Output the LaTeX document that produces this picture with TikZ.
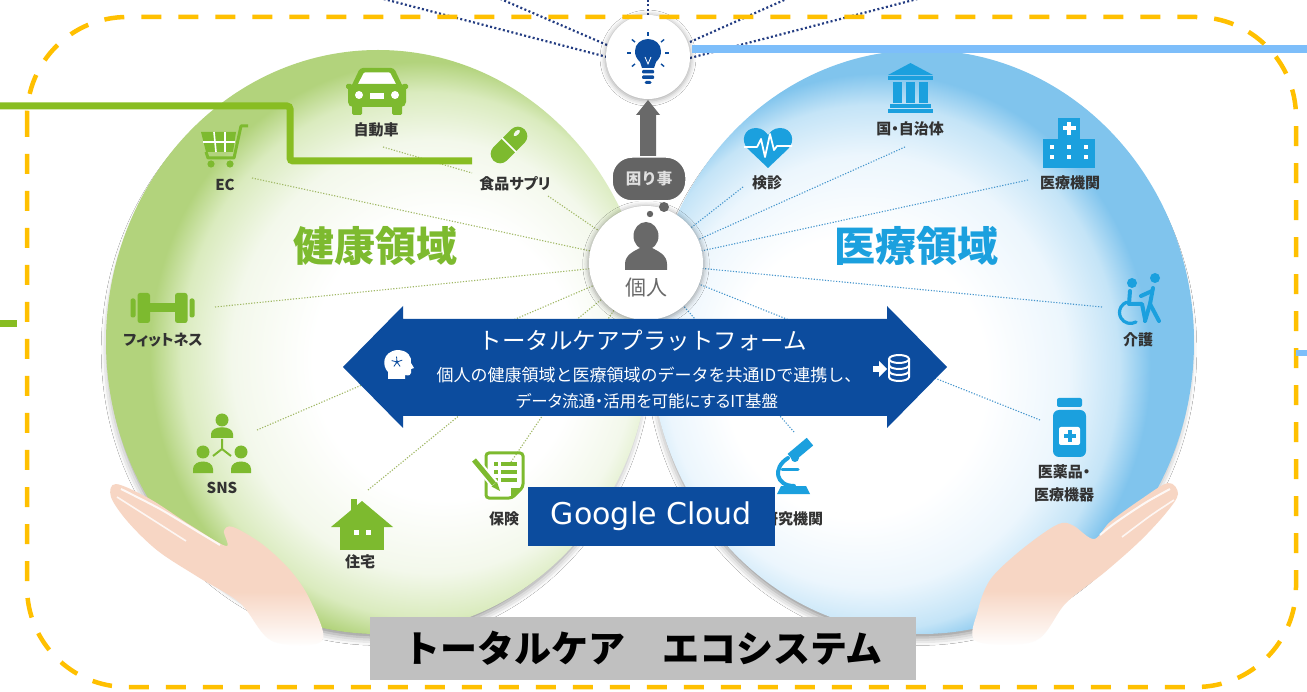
\documentclass[tikz,border=0pt]{standalone}
\usepackage{fontspec}
\setmainfont{Noto Sans CJK JP}
\newfontfamily\gcfont{DejaVu Sans}
\usetikzlibrary{shadows.blur}

\definecolor{hgreen}{RGB}{125,186,47}
\definecolor{mblue}{RGB}{27,160,222}
\definecolor{navy}{RGB}{12,76,158}
\definecolor{lblgray}{RGB}{50,50,50}
\definecolor{gold}{RGB}{255,192,0}
\definecolor{linegreen}{RGB}{136,189,34}
\definecolor{lineblue}{RGB}{125,190,250}
\definecolor{skin}{RGB}{247,214,196}
\definecolor{gedge}{RGB}{178,211,124}
\definecolor{gmid}{RGB}{218,235,190}
\definecolor{glight}{RGB}{243,248,235}
\definecolor{bedge}{RGB}{128,196,237}
\definecolor{bmid}{RGB}{196,228,247}
\definecolor{blight}{RGB}{236,246,253}
\definecolor{spokeg}{RGB}{160,184,100}
\definecolor{spokeb}{RGB}{70,150,205}
\definecolor{dotnavy}{RGB}{35,60,130}
\definecolor{pgray}{RGB}{105,105,105}
\definecolor{bubgray}{RGB}{100,100,100}
\definecolor{boxgray}{RGB}{192,192,192}

% sphere and hand shadings
\pgfdeclareradialshading{gsphere}{\pgfpoint{8bp}{-2bp}}{color(0bp)=(white); color(12bp)=(white); color(18.5bp)=(glight); color(22.5bp)=(gmid); color(25bp)=(gedge); color(50bp)=(gedge)}
\pgfdeclareradialshading{bsphere}{\pgfpoint{-8bp}{-4bp}}{color(0bp)=(white); color(12bp)=(white); color(18.5bp)=(blight); color(22.5bp)=(bmid); color(25bp)=(bedge); color(50bp)=(bedge)}
\pgfdeclareverticalshading{handfade}{100bp}{color(0bp)=(white); color(25bp)=(white); color(42bp)=(skin); color(100bp)=(skin)}

\begin{document}
\begin{tikzpicture}[x=1pt,y=-1pt,
  lbl/.style={font=\bfseries\fontsize{15}{17}\selectfont\addfontfeatures{RawFeature=+palt}, text=lblgray, inner sep=0pt},
  gspoke/.style={draw=spokeg, line width=1.1pt, dash pattern=on 1.2pt off 1.6pt},
  bspoke/.style={draw=spokeb, line width=1.1pt, dash pattern=on 1.2pt off 1.6pt},
  topdot/.style={draw=dotnavy, line width=2.2pt, dash pattern=on 2pt off 2.4pt},
  gfill/.style={fill=hgreen},
  bfill/.style={fill=mblue},
  softshadow/.style={blur shadow={shadow xshift=0pt, shadow yshift=-1pt, shadow blur radius=5pt, shadow opacity=35, shadow scale=1.02}},
  sphereshadow/.style={blur shadow={shadow xshift=-1pt, shadow yshift=-8pt, shadow blur radius=8pt, shadow opacity=45, shadow scale=0.985}},
]
\useasboundingbox (0,0) rectangle (1307,692);
\fill[white] (0,0) rectangle (1307,692);

% ---------- rays leaving the idea bulb ----------
\coordinate (bA) at (607,57);  \coordinate (tA) at (376,-3);
\coordinate (bB) at (607,45);  \coordinate (tB) at (496,-3);
\coordinate (bC) at (648,15);  \coordinate (tC) at (648,-3);
\coordinate (bD) at (690,42);  \coordinate (tD) at (791,-3);
\coordinate (bE) at (690,58);  \coordinate (tE) at (925,-3);
\draw[topdot] (bA) -- (tA);
\draw[topdot] (bB) -- (tB);
\draw[topdot] (bC) -- (tC);
\draw[topdot] (bD) -- (tD);
\draw[topdot] (bE) -- (tE);

% ---------- the two domain spheres ----------
\shade[shading=gsphere, sphereshadow] (378,342) ellipse [x radius=272pt, y radius=292pt];
\shade[shading=bsphere, sphereshadow] (922,342) ellipse [x radius=272pt, y radius=292pt];

% ---------- spokes from the person ----------
\coordinate (pc) at (646,263);
\coordinate (sCar) at (383,147);  \coordinate (sCarEnd) at (472,173);
\coordinate (sSup) at (548,196);
\coordinate (sEC) at (252,178);
\coordinate (sFit) at (215,307);
\coordinate (sSNS) at (257,430);
\coordinate (sHome) at (368,490);
\coordinate (sIns) at (511,462);
\draw[gspoke] (sCar) -- (sCarEnd);
\draw[gspoke] (sSup) -- (pc);
\draw[gspoke] (sEC) -- (pc);
\draw[gspoke] (sFit) -- (pc);
\draw[gspoke] (sSNS) -- (pc);
\draw[gspoke] (sHome) -- (pc);
\draw[gspoke] (sIns) -- (pc);
\coordinate (sChk) at (743,187);
\coordinate (sGov) at (905,147);
\coordinate (sHosp) at (1028,180);
\coordinate (sCare) at (1102,307);
\coordinate (sMed) at (1040,420);
\coordinate (sLab) at (794,432);
\draw[bspoke] (sChk) -- (pc);
\draw[bspoke] (sGov) -- (pc);
\draw[bspoke] (sHosp) -- (pc);
\draw[bspoke] (sCare) -- (pc);
\draw[bspoke] (sMed) -- (pc);
\draw[bspoke] (sLab) -- (pc);

% ---------- hands ----------
\shade[shading=handfade] plot[smooth cycle, tension=0.55] coordinates {(116,484) (150,499) (190,525) (226,546) (224,531) (233,527) (262,544) (290,570) (310,600) (322,641) (272,641) (240,603) (198,577) (158,551) (128,522) (111,497)};
\draw[white, line width=2pt, opacity=0.85] plot[smooth] coordinates {(121,489) (160,509) (200,533) (220,545)};
\draw[white, line width=1.6pt, opacity=0.8] plot[smooth] coordinates {(117,497) (150,518) (186,541)};
\shade[shading=handfade] plot[smooth cycle, tension=0.55] coordinates {(1168,483) (1140,500) (1110,522) (1094,539) (1074,526) (1062,523) (1045,532) (1015,555) (990,580) (978,610) (976,641) (1035,641) (1066,603) (1105,572) (1140,541) (1166,513) (1178,494)};
\draw[white, line width=2pt, opacity=0.85] plot[smooth] coordinates {(1170,489) (1145,503) (1115,523) (1100,535)};
\draw[white, line width=1.6pt, opacity=0.8] plot[smooth] coordinates {(1174,500) (1150,516) (1122,537)};

% ---------- health domain icons ----------
% car
\begin{scope}[shift={(377,92)}]
  \fill[gfill, rounded corners=1.5pt] (-31,-8) rectangle (-25,-3);
  \fill[gfill, rounded corners=1.5pt] (25,-8) rectangle (31,-3);
  \fill[gfill, rounded corners=3pt] (-17,-24) -- (17,-24) -- (26,-5) -- (-26,-5) -- cycle;
  \fill[white, rounded corners=1pt] (-13,-19.5) -- (13,-19.5) -- (19.5,-7) -- (-19.5,-7) -- cycle;
  \fill[gfill, rounded corners=1.5pt] (-25,10) rectangle (-15,23);
  \fill[gfill, rounded corners=1.5pt] (15,10) rectangle (25,23);
  \fill[gfill, rounded corners=5pt] (-29,-8) rectangle (29,15);
  \fill[white] (-18,3) circle[radius=4pt];
  \fill[white] (18,3) circle[radius=4pt];
  \fill[white] (-7,1) rectangle (7,7);
\end{scope}
% shopping cart
\begin{scope}[shift={(224,145)}]
  \fill[gfill] (-23,-13) -- (12,-13) -- (9,7) -- (-18,7) -- cycle;
  \draw[white, line width=1.6pt] (-21,-3) -- (11,-3);
  \draw[white, line width=1.6pt] (-10,-13) -- (-8,7);
  \draw[white, line width=1.6pt] (1,-13) -- (1,7);
  \draw[hgreen, line width=3pt, line join=round] (-18,7) -- (-16,13) -- (10,13) -- (17,-19) -- (24,-19);
  \fill[gfill] (-13,19) circle[radius=3.6pt];
  \fill[gfill] (6,19) circle[radius=3.6pt];
\end{scope}
% supplement capsule
\begin{scope}[shift={(509,145)}, rotate=45]
  \fill[gfill, rounded corners=9.5pt] (-22,-9.5) rectangle (22,9.5);
  \draw[white, line width=1.6pt] (0,-10) -- (0,10);
  \fill[white, opacity=0.9] (14,-3) ellipse [x radius=4pt, y radius=2pt];
\end{scope}
% dumbbell
\begin{scope}[shift={(162.5,308)}]
  \fill[gfill, rounded corners=2pt] (-32,-9.5) rectangle (-27,9.5);
  \fill[gfill, rounded corners=2pt] (27,-9.5) rectangle (32,9.5);
  \fill[gfill, rounded corners=2.5pt] (-25,-15) rectangle (-12.5,15);
  \fill[gfill, rounded corners=2.5pt] (12.5,-15) rectangle (25,15);
  \fill[gfill] (-13,-4.5) rectangle (13,4.5);
\end{scope}
% social network
\fill[gfill] (222,420) circle[radius=6.5pt];
\fill[gfill] (211,438) -- (211,434) .. controls (211,425) and (233,425) .. (233,434) -- (233,438) -- cycle;
\fill[gfill] (203,452) circle[radius=6.5pt];
\fill[gfill] (193,473) -- (193,469) .. controls (193,459) and (213,459) .. (213,469) -- (213,473) -- cycle;
\fill[gfill] (241,452) circle[radius=6.5pt];
\fill[gfill] (231,473) -- (231,469) .. controls (231,459) and (251,459) .. (251,469) -- (251,473) -- cycle;
\draw[hgreen, line width=2pt] (222,439) -- (222,449) -- (213,456);
\draw[hgreen, line width=2pt] (222,449) -- (231,456);
% house
\fill[gfill] (351,499) rectangle (357,512);
\fill[gfill] (331,527) -- (362,501) -- (393,527) -- cycle;
\fill[gfill] (340,524) rectangle (384,550);
\fill[white] (354,530) rectangle (359,535);
\fill[white] (366,530) rectangle (371,535);
% insurance form
\draw[hgreen, line width=3pt, rounded corners=3pt] (486,453) -- (523,453) -- (523,487) -- (512,498) -- (486,498) -- cycle;
\fill[gfill] (511,498) -- (511,488) -- (522,488) -- cycle;
\foreach \yy in {464,472,480} {
  \fill[gfill] (494,\yy-1.8) rectangle (498,\yy+1.8);
  \fill[gfill] (501,\yy-1.8) rectangle (517,\yy+1.8);
}
\draw[white, line width=9pt] (474,460) -- (496,486);
\draw[hgreen, line width=5pt] (474,460) -- (494,484);
\fill[gfill] (491.5,486.5) -- (497,482) -- (500,491) -- cycle;

% ---------- medical domain icons ----------
% heart with pulse
\fill[bfill] (768,168) -- (748,149) .. controls (740,141) and (744,128) .. (756,128) .. controls (762,128) and (766,132) .. (768,135) .. controls (770,132) and (774,128) .. (780,128) .. controls (792,128) and (796,141) .. (788,149) -- cycle;
\draw[white, line width=1.8pt, line join=round] (744,147) -- (757,147) -- (761,139) -- (765,157) -- (770,134) -- (774,150) -- (777,146) -- (792,146);
% government building
\fill[bfill] (888,75) -- (910.5,63) -- (933,75) -- cycle;
\fill[bfill] (888,76) rectangle (933,80);
\fill[bfill] (893,82) rectangle (902,103);
\fill[bfill] (906,82) rectangle (915,103);
\fill[bfill] (919,82) rectangle (928,103);
\fill[bfill] (890,104) rectangle (931,108);
\fill[bfill] (888,109) rectangle (933,113);
% hospital
\fill[bfill] (1058,118) rectangle (1080,141);
\fill[white] (1067,122) rectangle (1071,135);
\fill[white] (1062.5,126.5) rectangle (1075.5,130.5);
\fill[bfill] (1043,139) rectangle (1095,168);
\foreach \xx in {1052,1069,1086} \foreach \yy in {147,157} \fill[white] (\xx-2,\yy-2) rectangle (\xx+2,\yy+2);
% care: wheelchair and helper
\begin{scope}[mblue, line width=4pt, line cap=round, line join=round]
  \fill[bfill] (1155,278) circle[radius=5pt];
  \fill[bfill] (1132,283) circle[radius=5pt];
  \draw (1153,288) -- (1150,304) -- (1145,321);
  \draw (1150,304) -- (1159,321);
  \draw (1152,291) -- (1141,296);
  \draw (1130,291) -- (1129,304) -- (1142,304) -- (1145,319);
  \draw[line width=3.2pt] (1136,322) arc[start angle=-60, end angle=-250, radius=11pt];
\end{scope}
% medicine bottle
\fill[bfill, rounded corners=2pt] (1057,398) rectangle (1082,407);
\fill[bfill, rounded corners=6pt] (1053,410) rectangle (1086,457);
\fill[white, rounded corners=2pt] (1059,427) rectangle (1080,445);
\fill[bfill] (1067.5,430) rectangle (1071.5,442);
\fill[bfill] (1063.5,434) rectangle (1075.5,438);
% microscope
\fill[bfill, rotate around={40:(800,450)}] (788,445) rectangle (813,455);
\fill[bfill] (795,458) circle[radius=4pt];
\draw[mblue, line width=4pt, line cap=round] (788,458) .. controls (772,468) and (776,486) .. (794,486);
\draw[mblue, line width=3pt, line cap=round] (782,470) -- (798,470);
\fill[bfill] (777,494) -- (781,486) -- (806,486) -- (810,494) -- cycle;

% ---------- labels ----------
\node[lbl] (lCar) at (376,130) {自動車};
\node[lbl] (lEC) at (225,185) {EC};
\node[lbl] (lSup) at (515,184) {食品サプリ};
\node[lbl] (lFit) at (163,340) {フィットネス};
\node[lbl] (lSNS) at (222,488) {SNS};
\node[lbl] (lHome) at (360,562) {住宅};
\node[lbl] (lIns) at (504,519) {保険};
\node[lbl] (lChk) at (767,183) {検診};
\node[lbl] (lGov) at (910,129) {国・自治体};
\node[lbl] (lHosp) at (1070,183) {医療機関};
\node[lbl] (lCare) at (1138,340) {介護};
\node[lbl, align=center, font=\bfseries\fontsize{15}{23}\selectfont\addfontfeatures{RawFeature=+palt}] (lMed) at (1064,483) {医薬品・\\医療機器};
\node[lbl] (lLab) at (793,519) {研究機関};
\node[font=\bfseries\fontsize{41}{44}\selectfont, text=hgreen, inner sep=0pt] (hdom) at (375,246) {健康領域};
\node[font=\bfseries\fontsize{41}{44}\selectfont, text=mblue, inner sep=0pt] (mdom) at (916,246) {医療領域};

% ---------- link lines ----------
\coordinate (gA) at (-5,106);
\coordinate (gB) at (472,161);
\draw[linegreen, line width=7pt, rounded corners=3pt] (gA) -- (290,106) -- (290,161) -- (gB);
\coordinate (gC) at (-5,324);
\coordinate (gD) at (17,324);
\draw[linegreen, line width=7pt] (gC) -- (gD);

% ---------- centre column ----------
\node[circle, fill=white, minimum size=84pt, inner sep=0pt, softshadow] (bulb) at (648,57) {};
\coordinate (lbA) at (692,49);
\coordinate (lbB) at (1310,49);
\draw[lineblue, line width=8pt] (lbA) -- (lbB);
% bulb glyph
\fill[navy] (642,68) -- (654,68) -- (656,62) .. controls (660,58) and (661,55) .. (661,51) .. controls (661,44) and (655,39) .. (648,39) .. controls (641,39) and (635,44) .. (635,51) .. controls (635,55) and (636,58) .. (640,62) -- cycle;
\fill[navy, rounded corners=1pt] (642,70) rectangle (654,73.5);
\fill[navy, rounded corners=1pt] (642,75.5) rectangle (654,79);
\fill[navy, rounded corners=1.5pt] (644.5,81) rectangle (651.5,84);
\draw[white, line width=0.8pt] (645,57) -- (648,64) -- (651,57);
\foreach \a in {90,140,180,220,40,0,-40}
  \draw[navy, line width=1.4pt, shift={(648,53)}] (\a:17pt) -- (\a:21pt);

% arrow up from the concern
\fill[pgray] (648,100) -- (660,115) -- (656,115) -- (656,158) -- (640,158) -- (640,115) -- (636,115) -- cycle;

% person
\node[circle, fill=white, minimum size=114pt, inner sep=0pt, softshadow] (person) at (pc) {};
\fill[pgray] (646,236) ellipse [x radius=12.5pt, y radius=14pt];
\fill[pgray] (625,270) -- (625,264) .. controls (625,255) and (634,251) .. (640,248) -- (652,248) .. controls (658,251) and (667,255) .. (667,264) -- (667,270) -- cycle;
\node[font=\fontsize{21}{22}\selectfont, text=pgray, inner sep=0pt] (pname) at (646,288) {個人};

% concern bubble
\node[fill=bubgray, draw=white, line width=1.5pt, rounded corners=20pt, minimum width=74pt, minimum height=44pt, inner sep=0pt, text=white!88!black, font=\bfseries\fontsize{15.5}{17}\selectfont] (worry) at (649,179) {困り事};
\fill[bubgray] (664,207) circle[radius=5pt];
\fill[bubgray] (650,214) circle[radius=3.2pt];

% ---------- platform double arrow ----------
\fill[navy] (343,367) -- (403,306) -- (403,319) -- (887,319) -- (887,306) -- (947,367) -- (887,428) -- (887,416) -- (403,416) -- (403,428) -- cycle;
\node[font=\fontsize{23.5}{25}\selectfont, text=white, inner sep=0pt] (ptitle) at (643,341) {トータルケアプラットフォーム};
\node[font=\fontsize{17}{18}\selectfont, text=white, inner sep=0pt] (pline1) at (649,375) {個人の健康領域と医療領域のデータを共通IDで連携し、};
\node[font=\fontsize{16.5}{18}\selectfont\addfontfeatures{RawFeature=+palt}, text=white, inner sep=0pt] (pline2) at (647,401) {データ流通・活用を可能にするIT基盤};
% head with network
\fill[white] (388,379) -- (388,372) .. controls (382,366) and (382,352) .. (397,350) .. controls (408,350) and (412,357) .. (411,363) -- (414,368) -- (411,369) -- (411,373) .. controls (411,375) and (409,376) .. (405,375) -- (405,379) -- cycle;
\foreach \a in {20,95,165,235,305}
  \draw[navy, line width=0.8pt, shift={(397,362)}] (0,0) -- (\a:5.5pt);
\fill[navy] (397,362) circle[radius=1.6pt];
% data store
\fill[white] (873,366) rectangle (880,372);
\fill[white] (879,361) -- (887,369) -- (879,377) -- cycle;
\begin{scope}[white, line width=2pt]
  \draw (899,359) ellipse [x radius=10pt, y radius=4pt];
  \draw (889,359) -- (889,377) arc[start angle=180, end angle=360, x radius=10pt, y radius=4pt] -- (909,359);
  \draw (889,365) arc[start angle=180, end angle=360, x radius=10pt, y radius=4pt];
  \draw (889,371) arc[start angle=180, end angle=360, x radius=10pt, y radius=4pt];
\end{scope}

% ---------- boxes ----------
\node[fill=navy, text=white, minimum width=247pt, minimum height=59pt, inner sep=0pt, font=\gcfont\fontsize{30}{31}\selectfont] (gcloud) at (651.5,516.5) {Google Cloud};
\node[fill=boxgray, text=black, minimum width=546pt, minimum height=63pt, inner sep=0pt, font=\bfseries\fontsize{37}{40}\selectfont] (eco) at (643,648.5) {トータルケア　エコシステム};

% ---------- ecosystem frame ----------
\draw[gold, line width=4.5pt, dash pattern=on 20pt off 17pt, rounded corners=100pt] (27,17) rectangle (1296,687);
\coordinate (rbA) at (1296,353);
\coordinate (rbB) at (1310,353);
\draw[lineblue, line width=6pt] (rbA) -- (rbB);
\end{tikzpicture}
\end{document}
